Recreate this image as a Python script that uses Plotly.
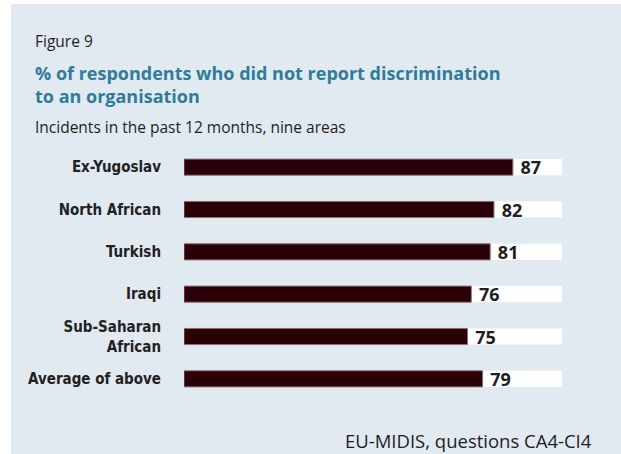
import plotly.graph_objects as go

categories = ["Ex-Yugoslav", "North African", "Turkish", "Iraqi", "Sub-Saharan<br>African", "Average of above"]
values = [87, 82, 81, 76, 75, 79]
scale_max = [100, 100, 100, 100, 100, 100]

W, H = 621, 454
L, R = 184, 562
T, B = 146, 400

def px2x(px):
    return (px - L) / (R - L)

def py2y(py):
    return (B - py) / (B - T)

panel = "#e1e9f1"
teal = "#2f7c99"
bar_col = "#2a0006"
narrow = "Liberation Sans Narrow, DejaVu Sans Condensed, sans-serif"

fig = go.Figure()
fig.add_trace(go.Bar(
    y=categories, x=scale_max, orientation="h",
    marker=dict(color="white", line=dict(width=0)),
    width=0.38, hoverinfo="skip", showlegend=False,
))
fig.add_trace(go.Bar(
    y=categories, x=values, orientation="h",
    marker=dict(color=bar_col, line=dict(color="#8c6e74", width=1)),
    width=0.38, text=["\u00a0" + str(v) for v in values], textposition="outside", constraintext="none",
    textfont=dict(family="Open Sans", size=18, color="#1e1e1e", weight="bold"),
    cliponaxis=False, showlegend=False,
))

fig.update_layout(
    width=W, height=H,
    margin=dict(l=L, r=W - R, t=T, b=H - B, pad=0),
    paper_bgcolor=panel, plot_bgcolor="rgba(0,0,0,0)",
    barmode="overlay",
    xaxis=dict(range=[0, 100], visible=False, fixedrange=True),
    yaxis=dict(autorange="reversed", showgrid=False, zeroline=False, showline=False,
               ticks="", ticklabelstandoff=22, fixedrange=True,
               tickfont=dict(family=narrow, size=15, color="#222222", weight="bold")),
    font=dict(family="Open Sans"),
    shapes=[
        dict(type="rect", xref="paper", yref="paper", x0=px2x(0), x1=px2x(11), y0=py2y(H), y1=py2y(0),
             fillcolor="white", line=dict(width=0), layer="below"),
        dict(type="rect", xref="paper", yref="paper", x0=px2x(0), x1=px2x(W), y0=py2y(4), y1=py2y(0),
             fillcolor="white", line=dict(width=0), layer="below"),
    ],
    annotations=[
        dict(text="Figure 9", xref="paper", yref="paper", x=px2x(33), y=py2y(41), xanchor="left", yanchor="middle",
             showarrow=False, font=dict(family="Open Sans", size=15.5, color="#1e1e1e")),
        dict(text="% of respondents who did not report discrimination<br>to an organisation", xref="paper", yref="paper",
             x=px2x(33), y=py2y(84), xanchor="left", yanchor="middle", align="left", showarrow=False,
             font=dict(family="Open Sans", size=18, color=teal, weight="bold")),
        dict(text="Incidents in the past 12 months, nine areas", xref="paper", yref="paper",
             x=px2x(33), y=py2y(127), xanchor="left", yanchor="middle", showarrow=False,
             font=dict(family="Open Sans", size=15.5, color="#1e1e1e")),
        dict(text="EU-MIDIS, questions CA4-CI4", xref="paper", yref="paper",
             x=px2x(594), y=py2y(440), xanchor="right", yanchor="middle", showarrow=False,
             font=dict(family="Open Sans", size=18.5, color="#1e1e1e")),
    ],
)

fig.write_html(
    "out.html",
    config={"displayModeBar": False},
    post_script="document.body.style.margin='0';document.body.style.padding='0';document.body.style.overflow='hidden';",
)
